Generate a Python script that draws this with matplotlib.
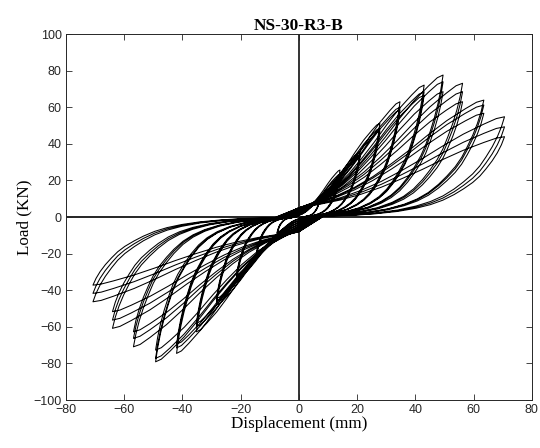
import matplotlib.pyplot as plt
import numpy as np

# peak displacement of each amplitude level (mm)
pos_disp = [7.2, 14.1, 21.0, 27.8, 34.7, 43.0, 49.5, 56.2, 63.5, 70.6]
neg_disp = [-7.5, -14.5, -21.4, -28.3, -35.2, -42.0, -49.2, -56.8, -64.0, -70.7]

# peak load of the three cycles at each level (kN)
pos_load = [[11.0, 10.0, 9.5], [25.7, 23.5, 22.5], [35.7, 34.0, 33.0],
            [51.2, 48.5, 47.0], [63.0, 60.0, 58.5], [72.1, 68.5, 66.5],
            [77.6, 73.9, 68.5], [73.1, 68.5, 63.0], [63.9, 61.2, 56.7],
            [54.8, 49.3, 43.9]]
neg_load = [[-10.0, -9.0, -8.5], [-21.7, -20.0, -19.0], [-34.4, -32.5, -31.5],
            [-48.1, -46.0, -44.5], [-62.7, -60.0, -58.0], [-74.5, -71.5, -69.5],
            [-79.1, -77.2, -72.7], [-70.9, -66.3, -62.7], [-60.8, -56.3, -51.7],
            [-46.3, -41.7, -37.2]]

# load where the curve passes zero displacement (kN)
cross_up = [1.0, 2.0, 2.0, 3.0, 3.0, 4.0, 4.0, 5.0, 5.0, 5.0]
cross_down = [-1.0, -2.0, -3.0, -4.0, -5.0, -6.0, -7.0, -7.0, -8.0, -8.0]

unload_u = [1.0, 0.985, 0.965, 0.94, 0.91, 0.88, 0.845, 0.80, 0.755, 0.70,
            0.64, 0.57, 0.48, 0.37, 0.25, 0.12]
unload_v = [1.0, 0.90, 0.80, 0.70, 0.60, 0.51, 0.43, 0.35, 0.28, 0.21,
            0.155, 0.11, 0.07, 0.04, 0.02, 0.01]
load_u = [0.0, 0.1, 0.2, 0.3, 0.4, 0.5, 0.6, 0.7, 0.8, 0.9, 0.96, 1.0]
load_v = [0.0, 0.05, 0.11, 0.19, 0.29, 0.41, 0.54, 0.68, 0.81, 0.92, 0.98, 1.0]


def half_cycle(d_peak, f_peak, f_start):
    """Loading from zero displacement to a peak, then unloading back"""
    lu, lv = np.array(load_u), np.array(load_v)
    uu, uv = np.array(unload_u), np.array(unload_v)
    x = np.concatenate([d_peak * lu, d_peak * uu[1:]])
    y = np.concatenate([f_start + (f_peak - f_start) * lv, f_peak * uv[1:]])
    return x, y


xs, ys = [np.array([0.0])], [np.array([0.0])]
for k in range(len(pos_disp)):
    for j in range(3):
        x, y = half_cycle(pos_disp[k], pos_load[k][j], cross_up[k])
        xs.append(x)
        ys.append(y)
        x, y = half_cycle(neg_disp[k], neg_load[k][j], cross_down[k])
        xs.append(x)
        ys.append(y)
disp = np.concatenate(xs)
load = np.concatenate(ys)

fig = plt.figure(figsize=(5.4, 4.48), dpi=100)
ax = fig.add_axes([0.122, 0.107, 0.863, 0.817])

ax.axhline(0, color='black', lw=1.2, zorder=1)
ax.axvline(0, color='#333333', lw=1.4, zorder=1)
ax.plot(disp, load, color='black', lw=0.75, zorder=2)

ax.set_xlim(-80, 80)
ax.set_ylim(-100, 100)
ax.set_xticks(range(-80, 81, 20))
ax.set_yticks(range(-100, 101, 20))
ax.tick_params(direction='in', top=True, right=True, length=4, width=0.6,
               colors='#262626', labelsize=9, pad=3)
for lab in ax.get_xticklabels() + ax.get_yticklabels():
    lab.set_family('Liberation Sans')
for s in ax.spines.values():
    s.set_color('#262626')
    s.set_linewidth(0.7)

ax.set_title('NS-30-R3-B', fontfamily='Liberation Serif', fontweight='bold',
             fontsize=12.5, pad=3)
ax.set_xlabel('Displacement (mm)', fontfamily='Liberation Serif', fontsize=12.3, labelpad=0)
ax.set_ylabel('Load (KN)', fontfamily='Liberation Serif', fontsize=12.3, labelpad=1)

fig.savefig('out.png', dpi=100)
